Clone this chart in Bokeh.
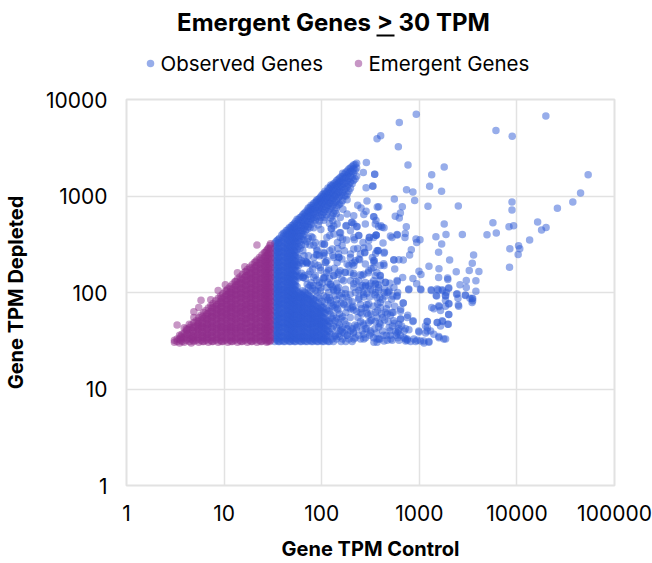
from bokeh.plotting import figure
from bokeh.layouts import column
from bokeh.models import FixedTicker, NumeralTickFormatter
from bokeh.core.properties import value
from bokeh.embed import file_html
from bokeh.resources import INLINE

x_ticks = [1, 10, 100, 1000, 10000, 100000]
y_ticks = [1, 10, 100, 1000, 10000]
series_names = ["Observed Genes", "Emergent Genes"]
chart_title = "Emergent Genes > 30 TPM"

# Emergent genes read column by column: (control TPM, [depleted TPM...])
emergent_columns = [
(3.1,[30.5,32]),(3.3,[31,33,46]),(3.5,[30,33,36]),(3.7,[31,34,37]),(3.9,[30.5,34,38,43]),
(4.1,[32,36,40,42]),(4.4,[31,34,38,43,47]),(4.6,[30,33,36,41,46]),(4.9,[31,34,38,43,49,55,63]),
(5.2,[32,36,40,45,51]),(5.5,[30.5,34,39,43,48,55,70]),(5.8,[32,36,41,45,52,58,83]),
(6.2,[31,34,38,43,48,54,62]),(6.5,[32,36,40,45,51,57,65]),(6.9,[30.5,34,38,43,48,54,61,69]),
(7.3,[32,36,41,46,51,57,64,73,84]),(7.7,[31,34,39,43,48,55,61,69,77]),(8.2,[32,36,40,45,51,57,64,72,82]),
(8.7,[30.5,34,38,43,48,54,61,68,76,87,105]),(9.2,[32,36,41,45,51,58,64,72,81,92]),
(9.7,[31,34,38,43,48,54,61,68,77,86,97]),(10.3,[32,36,40,45,51,57,64,72,81,91,103,120]),
(10.9,[30.5,34,39,43,48,55,61,68,76,86,96,109]),(11.5,[32,36,41,45,51,57,65,72,81,91,102,115]),
(12.2,[31,34,38,43,48,54,61,69,76,86,96,108,122]),(12.9,[32,36,40,45,51,57,64,72,81,92,102,114,129]),
(13.7,[30.5,34,38,43,49,54,61,68,77,86,96,108,121,137,160]),(14.5,[32,36,41,45,51,58,64,72,81,91,103,114,128,145]),
(15.4,[31,34,38,43,48,54,61,68,76,87,96,108,122,136,154]),(16.3,[32,36,40,46,51,57,65,72,81,91,102,115,128,144,163,185]),
(17.3,[30.5,34,39,43,48,54,61,69,76,86,97,108,121,136,152,173]),(18.3,[32,36,40,45,52,57,64,72,82,91,102,114,129,144,161,183]),
(19.4,[31,34,38,44,48,55,61,68,77,86,96,109,121,137,152,171,194]),(20.5,[32,36,41,45,51,57,65,72,81,92,102,115,128,144,162,181,205]),
(21.7,[30.5,34,38,43,49,54,61,69,76,86,97,108,122,136,153,171,192,217,310]),(23,[32,36,40,45,51,58,64,72,82,91,103,114,129,144,161,182,203,230]),
(24.4,[31,35,38,43,48,54,62,68,77,86,96,109,121,137,152,172,192,215,244]),(25.8,[32,36,41,45,52,57,65,72,81,92,102,114,128,145,161,181,204,228,258]),
(27.3,[30.5,34,38,44,48,55,61,69,76,87,96,108,122,136,153,171,193,215,241,273]),(28.5,[32,36,40,45,51,57,64,73,81,91,103,115,128,144,162,181,203,229,255,290]),
(29.4,[31,34,39,43,49,54,61,68,77,86,97,108,121,137,152,172,192,216,241,271,307]),(29.9,[32,36,41,45,51,58,65,72,81,91,102,114,129,144,161,182,203,228,256,287,320]),
(3.6,[32,35]),(4.2,[33,37,41]),(4.8,[32,35,40,44]),(5.4,[33,37,42,47,50]),(6,[31,35,39,44,49,56]),
(6.7,[33,37,42,47,53,60]),(7.5,[31,35,39,44,50,56,63,70]),(8.4,[33,37,42,47,53,60,67,75]),
(9.4,[31,35,40,44,50,56,63,71,79,88]),(10.6,[33,38,42,47,53,60,67,75,84,94,104]),
(11.8,[31,35,40,44,50,56,63,70,79,88,99,110]),(13.2,[33,38,42,47,53,60,67,75,84,95,106,119,130]),
(14.9,[31,35,40,44,50,56,63,70,79,89,99,111,124,139]),(16.8,[33,38,42,48,53,60,67,75,84,95,106,119,133,149,165]),
(18.9,[31,35,40,44,50,56,63,71,79,89,99,111,125,140,157,178]),(21.1,[33,38,42,47,53,60,67,75,85,95,106,119,133,149,167,188,208]),
(23.7,[31,35,40,44,50,56,63,70,79,89,100,112,125,140,158,177,198,222]),(26.5,[33,38,42,47,53,60,67,75,85,95,106,119,133,150,167,187,210,236,262]),
(28,[31,35,40,44,50,56,63,70,79,89,100,112,125,141,158,177,198,222,248,280]),
]

observed_columns = [
(33,[31,34,38,42,47,52,58,65,73,82,91,102,114,128,144,161,181,203,228,256,287,322]),
(34,[33,36,40,45,50,56,62,70,78,87,97,108,121,136,152,171,192,215,242,271,304,335]),
(35,[32,36,40,45,50,55,62,70,78,87,97,108,121,136,152,171,192,215,242,271,304,345]),
(36,[31,34,38,43,47,53,59,66,74,82,92,103,115,129,145,163,182,204,229,258,288,325,355]),
(37,[31,34,38,43,47,53,59,66,74,82,92,103,115,129,145,163,182,204,229,258,288,325,365]),
(39,[32,36,40,45,50,56,62,70,78,87,98,108,122,137,153,172,193,216,243,272,306,345,395]),
(40.5,[31,35,39,44,49,55,61,69,77,86,96,107,120,134,150,168,188,212,238,266,298,336,380,410]),
(42,[31,34,38,43,48,53,59,66,74,83,92,103,115,130,145,162,183,205,230,258,290,326,368,415]),
(43.5,[33,37,42,47,52,58,65,73,82,91,101,113,127,142,160,179,201,226,253,284,318,358,400,440]),
(45,[32,36,41,45,50,56,63,70,79,88,98,110,122,138,153,172,193,218,243,274,308,348,390,445]),
(46.5,[31,35,39,44,49,54,61,68,76,85,95,106,119,134,150,168,189,211,237,267,300,338,380,425,470]),
(48,[31,34,38,42,47,53,59,66,75,83,93,104,116,130,146,163,184,206,231,260,292,330,370,415,470]),
(49.5,[33,37,41,46,52,58,64,72,81,90,101,113,126,141,159,178,199,224,252,283,320,360,405,455,495]),
(51,[32,36,40,45,50,56,63,71,79,88,98,110,123,138,155,174,196,220,246,276,312,350,395,440,500]),
(52.5,[31,35,39,44,49,55,61,69,77,86,96,108,120,135,152,170,191,214,240,270,303,340,385,430,480,520]),
(54,[31,34,38,43,48,53,60,67,75,84,94,105,118,131,147,166,186,208,234,262,295,332,372,420,470,540]),
(56,[33,37,42,47,52,59,66,73,82,92,103,115,148,168,195,245,280,322,365,410,460,520,575]),
(58,[32,36,41,46,51,57,64,71,80,89,99,142,190,225,300,345,390,440,500,570]),
(60,[31,35,39,44,50,55,62,70,78,88,98,148,205,285,335,380,435,490,550,600]),
(62,[31,34,38,43,48,54,60,68,76,85,95,158,215,310,360,410,465,530,610]),
(64,[33,37,42,47,53,59,66,74,83,93,104,143,200,270,385,440,500,565,640]),
(66,[32,36,40,45,51,57,64,72,81,90,101,150,240,350,400,460,520,590,660]),
(68,[31,35,39,44,50,56,62,70,79,88,99,140,210,315,430,490,550,620,680]),
(71,[31,34,38,43,48,54,61,68,76,86,96,122,200,335,450,510,580,650,710]),
(73,[33,37,42,47,53,59,66,74,84,94,113,155,240,365,480,545,610,690,750]),
(76,[32,36,41,46,51,57,64,72,81,91,118,165,310,470,540,620,690,760]),
(78,[31,35,39,44,50,56,62,70,78,88,126,195,380,510,580,650,730,800]),
(81,[31,34,38,43,48,54,60,68,77,86,110,175,370,560,640,720,800]),
(83,[33,37,42,48,53,60,67,75,84,118,230,470,600,680,770,840]),
(86,[32,36,40,45,51,57,65,73,82,105,150,330,560,660,740,860]),
(89,[31,35,39,45,50,56,63,71,90,135,280,590,700,780,870,910]),
(92,[31,34,39,43,48,54,61,69,78,118,190,500,620,720,810,920]),
(95,[33,37,42,47,53,60,67,87,128,240,550,670,760,860,950]),
(98,[32,36,41,46,51,58,65,73,112,170,450,600,700,800,900,980]),
(101,[31,35,40,45,50,56,63,81,125,320,640,740,840,950,1030]),
(105,[31,34,38,43,49,55,62,70,92,240,560,680,780,880,980,1060]),
(108,[33,37,42,48,54,61,78,145,600,720,820,920,1030,1120]),
(112,[32,36,41,46,52,67,90,160,640,760,860,960,1080]),
(116,[31,35,40,45,51,65,84,128,690,800,900,1010,1130,1210]),
(120,[31,39,50,64,88,140,520,720,850,960,1060,1190]),
(124,[37,48,60,78,120,590,740,840,960,1090,1240,1300]),
(128,[33,42,54,72,115,620,780,900,1020,1150,1280]),
(132,[31,45,57,74,108,660,820,940,1060,1190,1330]),
(137,[35,51,70,92,700,860,990,1120,1260,1370]),
(142,[33,43,54,84,125,760,900,1030,1170,1310,1440]),
(147,[37,49,66,155,800,950,1080,1220,1350,1480]),
(152,[35,46,60,93,820,980,1110,1260,1400,1530]),
(158,[31,41,54,78,850,1020,1160,1300,1450,1580]),
(164,[33,43,56,88,900,1080,1240,1400,1580,1720]),
(170,[38,51,74,1000,1170,1340,1520,1680]),
(177,[31,47,62,1000,1190,1380,1560,1760]),
(183,[36,42,70,1050,1250,1430,1620,1820]),
(190,[33,45,82,1130,1320,1520,1720,1910]),
(197,[40,68,1200,1400,1600,1800,1950]),
(205,[31,42,80,1340,1560,1800,2020]),
(212,[38,66,1450,1720,1900,2100]),
(220,[34,46,1500,1850,2120]),
(228,[43,64,1600,1950,2180]),
(250,[33,75]),(270,[37,46,90]),(290,[42,68]),(320,[38,60]),
]

observed_pairs = [
(931,7040),(624,5770),(402,4200),(369,3910),(610,3230),(766,2100),(349,1680),(335,1260),(1340,1660),(1800,2000),
(1275,1260),(1690,1120),(740,1160),(860,1100),(896,900),(555,930),(670,775),(384,775),(1227,782),(2510,787),
(640,667),(567,615),(624,590),(343,610),(360,558),(405,492),(435,469),(736,481),(1800,512),(1877,400),(1480,378),
(2760,400),(4940,397),(6150,413),(5680,528),(8300,481),(9250,492),(8900,866),(8900,716),(16300,537),(17900,443),
(19900,473),(13500,349),(26000,745),(37400,866),(44900,1074),(53700,1660),(19800,6760),(6100,4760),(8950,4160),
(10400,305),(10700,284),(10300,248),(8470,284),(8400,183),(595,394),(525,372),(718,409),(713,372),(925,358),
(1016,352),(940,330),(1695,318),(362,391),(425,325),(1577,262),(828,277),(796,244),(2045,217),(3600,244),(3490,201),
(3250,169),(4080,165),(2390,164),(1256,187),(1590,176),(992,166),(1040,154),(860,140),(675,143),(940,123),(1040,107),
(778,107),(1578,143),(1950,141),(1960,136),(3030,133),(3800,132),(2610,120),(3030,113),(1995,110),(1330,105),(1565,106),
(1735,104),(3800,103),(1890,100),(1505,92),(1860,92),(2410,96),(2490,87),(2960,94),(3300,87),(3520,87),(3520,82),(2010,77),
(2510,74),(1340,70),(1590,71),(685,78),(590,91),(445,92),(645,67),(2000,59),(1980,47),(1735,50),(1210,50),(860,50),(1860,33),
(1590,34),(1257,30.5),(1117,30),(992,39),(1305,40),(1210,43),(1160,38),(752,33),(725,31.5),(815,31),(917,31),(1030,31.5),
(696,34),(595,38),(490,43),(510,33),(435,31.5),(343,30.5),(385,33),(402,47),(470,60),(370,55),(783,41),(645,53),(752,55),
(1650,45),(1530,49),(396,149),(452,127),(550,113),(595,130),(400,190),(435,190),(550,217),(618,218),(685,217),(560,175),
(357,254),(435,256),(378,270),(343,205),(357,100),(470,100),(375,76),
(287,2220),(267,1750),(349,1680),(285,1220),(333,1270),(182,916),(291,887),(234,800),(253,750),(285,694),(270,645),(371,770),
(340,610),(165,727),(141,655),(130,550),(125,461),(177,488),(202,532),(229,481),(383,484),(360,393),(308,372),(239,390),
(121,390),(153,416),(164,358),(216,352),(265,330),(106,315),(83,308),(146,286),(233,286),(276,258),(88,246),(105,260),
(130,242),(161,222),(245,218),(197,250),(346,213),(71,205),(85,197),(118,168),(155,168),(270,155),(354,149),(196,161),
(302,117),(354,122),(249,113),(168,132),(133,104),(196,96),(291,98),(368,89),(144,76),(249,62),(196,55),(303,49),(354,62),
(315,40),(270,33),(212,39),(155,40),(369,30.5),(240,85),(180,90),(280,70),(330,105),(400,70),(420,40),(560,48),(460,36),
(620,32),(660,45),(540,62),(350,42),(300,58),(210,72),(160,98),(420,55),(480,75),(380,120),(265,100),(225,130),(190,190),
(150,230),(110,205),(135,178),(215,205),(300,160),(330,230),(270,290),(180,350),(145,330),(520,85),(700,40),(640,36),
(107,319),(90,246),(128,283),(162,307),(156,415),(126,457),(179,494),(230,483),(205,536),(240,389),(308,374),(361,395),
(506,384),(592,398),(415,475),(213,283),(276,262),(378,272),(439,262),(240,223),(341,214),(432,198),(547,218),(205,198),
(150,232),(109,206),(70,206),(321,176),(399,150),(449,128),(592,133),(486,101),(355,123),(240,105),(281,118),(213,123),
(303,76),(399,79),(449,62.5),(547,51),(259,60),(292,61),(315,51),(384,44),(615,42),(505,36),(369,33),(281,34),(213,33),
(162,39),(182,36),(138,36),(168,76),(144,68),(123,83),(101,70),(205,70),(175,97),(144,109),(113,113),(90,101),(77,105),
(65,144),(83,144),(105,139),(133,150),(173,162),(213,150),(259,150),(52,198),
(722,33),(752,32),(950,32),(1110,31.5),(1250,31),(880,33),(1780,33),(1585,35),(1410,37),(1202,40),(988,40),(1156,45),
(1202,50),(1524,49),(1714,51),(1960,47),(2004,59),(1648,65),(1410,68),(1853,72),(1585,73),(2004,76),(2535,72),(1853,93),
(1853,83),(1489,93),(2443,97),(2972,93),(3475,86),(3475,79),(1524,109),(1322,107),(1714,107),(2004,112),(1028,109),(781,109),
(684,78),(593,93),(641,64),(527,62),(762,58),(865,51),(641,53),(570,40),(723,42),(617,47),(527,32),(603,34),
(240,36),(260,40),(230,45),(250,50),(280,42),(310,36),(340,34),(365,38),(395,33),(430,36),(470,32),(500,40),(530,45),
(580,36),(610,40),(235,55),(265,48),(325,52),(355,50),(390,48),(410,60),(440,52),(480,50),(255,68),(290,75),(340,72),
(375,65),(420,85),(460,68),(505,58),(560,72),(240,88),(310,90),(350,95),(395,88),(435,100),(490,105),(535,92),(280,115),
(320,125),(400,135),(440,110),(500,125),(600,100),
(90,270),(106,254),(121,270),(133,231),(149,250),(171,270),(197,231),(221,213),(249,250),(303,294),(368,270),(113,213),
(144,205),(182,197),(213,189),(280,197),(341,182),(97,182),(118,175),(149,161),(175,161),(213,157),(249,153),(303,168),
(368,161),(105,143),(133,149),(161,137),(197,132),(239,132),(280,127),(341,132),(122,122),(149,113),(175,108),(213,113),
(259,118),(315,108),(383,113),(97,104),(118,100),(144,104),(221,100),(270,96),(383,104),(113,372),(133,403),(155,372),
(197,437),(213,372),(303,345),(341,372),(144,512),(213,512),(280,512),(354,512),(155,600),(133,490),(182,650),(213,625),
]

emergent_x = [x for x, ys in emergent_columns for _ in ys]
emergent_y = [y for _, ys in emergent_columns for y in ys]
observed_x = [x for x, ys in observed_columns for _ in ys] + [a for a, _ in observed_pairs]
observed_y = [y for _, ys in observed_columns for y in ys] + [b for _, b in observed_pairs]

FONT = "Inter"
GRID = "#e2e2e2"
BLUE = "#2f5bd6"
PURPLE = "#8f2d8c"

# Header strip: title and legend, in page-pixel coordinates
h = figure(width=652, height=84, x_range=(126, 614), y_range=(84, 0), output_backend="svg", toolbar_location=None,
           min_border_left=126, min_border_right=38, min_border_top=0, min_border_bottom=0,
           x_axis_type=None, y_axis_type=None)
h.grid.visible = False
h.outline_line_color = None
h.text([333], [22], text=[chart_title], text_font=value(FONT), text_font_size="24px", text_font_style="bold",
       text_color="#000000", text_align="center", text_baseline="middle")
h.segment([376], [35], [394], [35], line_color="#000000", line_width=2)
h.scatter([150, 358], [63, 63], size=7.5, fill_color=[BLUE, PURPLE], fill_alpha=0.5, line_color=None)
h.text([160, 368], [63, 63], text=series_names, text_font=value(FONT), text_font_size="20.5px",
       text_color="#000000", text_align="left", text_baseline="middle")

p = figure(width=652, height=479, x_axis_type="log", y_axis_type="log",
           x_range=(1, 100000), y_range=(1, 10000), output_backend="svg", toolbar_location=None,
           min_border_left=126, min_border_right=38, min_border_top=15, min_border_bottom=78)
p.background_fill_color = "white"
p.outline_line_color = GRID
p.outline_line_width = 2

for ax, ticks in ((p.xaxis[0], x_ticks), (p.yaxis[0], y_ticks)):
    ax.ticker = FixedTicker(ticks=ticks)
    ax.formatter = NumeralTickFormatter(format="0")
    ax.axis_line_color = None
    ax.major_tick_line_color = None
    ax.minor_tick_line_color = None
    ax.major_label_text_font = FONT
    ax.major_label_text_font_size = "21px"
    ax.major_label_text_font_style = "normal"
    ax.major_label_text_color = "#000000"
    ax.major_label_standoff = 13
    ax.axis_label_text_font = FONT
    ax.axis_label_text_font_size = "20px"
    ax.axis_label_text_font_style = "bold"
    ax.axis_label_text_color = "#000000"
p.xaxis.axis_label = "Gene TPM Control"
p.yaxis.axis_label = "Gene TPM Depleted"
p.xaxis.axis_label_standoff = 13
p.yaxis.axis_label_standoff = 15

p.xgrid.ticker = FixedTicker(ticks=x_ticks)
p.ygrid.ticker = FixedTicker(ticks=y_ticks)
p.xgrid.grid_line_color = GRID
p.ygrid.grid_line_color = GRID
p.xgrid.grid_line_width = 1.5
p.ygrid.grid_line_width = 1.5

p.scatter(observed_x, observed_y, size=7.5, fill_color=BLUE, fill_alpha=0.5, line_color=None)
p.scatter(emergent_x, emergent_y, size=7.5, fill_color=PURPLE, fill_alpha=0.5, line_color=None)

layout = column(h, p, spacing=0)
open("out.html", "w").write(file_html(layout, INLINE))
